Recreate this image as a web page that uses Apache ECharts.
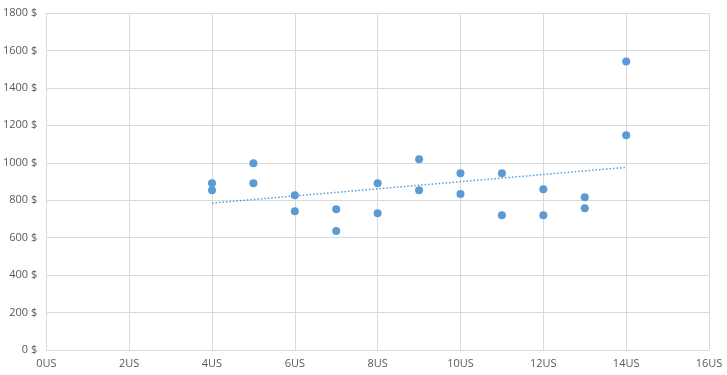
<!DOCTYPE html>
<html>
<head>
<meta charset="utf-8">
<script src="https://cdn.jsdelivr.net/npm/echarts@6/dist/echarts.min.js"></script>
<style>html,body{margin:0;padding:0;background:#fff;}#c{width:727px;height:375px;}</style>
</head>
<body>
<div id="c"></div>
<script>
var xValues = [4, 4, 5, 5, 6, 6, 7, 7, 8, 8, 9, 9, 10, 10, 11, 11, 12, 12, 13, 13, 14, 14];
var yValues = [891, 853, 997, 891, 827, 741, 752, 635, 891, 731, 1019, 853, 944, 833, 944, 720, 859, 720, 816, 757, 1541, 1147];
var xTicks = [0, 2, 4, 6, 8, 10, 12, 14, 16];
var yTicks = [0, 200, 400, 600, 800, 1000, 1200, 1400, 1600, 1800];

var pts = xValues.map(function (x, i) { return [x, yValues[i]]; });
// least-squares linear trendline
var n = xValues.length, sx = 0, sy = 0, sxx = 0, sxy = 0;
for (var i = 0; i < n; i++) { sx += xValues[i]; sy += yValues[i]; sxx += xValues[i] * xValues[i]; sxy += xValues[i] * yValues[i]; }
var slope = (n * sxy - sx * sy) / (n * sxx - sx * sx);
var intercept = (sy - slope * sx) / n;
var xmin = Math.min.apply(null, xValues), xmax = Math.max.apply(null, xValues);
var trend = [[xmin, intercept + slope * xmin], [xmax, intercept + slope * xmax]];

var chart = echarts.init(document.getElementById('c'), null, { renderer: 'canvas' });
var labelStyle = { color: '#595959', fontSize: 11, fontFamily: 'Open Sans, sans-serif' };
chart.setOption({
  animation: false,
  grid: { left: 45, right: 18, top: 13, bottom: 25, containLabel: false },
  xAxis: {
    type: 'value', min: xTicks[0], max: xTicks[xTicks.length - 1], interval: 2,
    axisLine: { show: true, lineStyle: { color: '#d9d9d9' } },
    axisTick: { show: false },
    splitLine: { show: true, lineStyle: { color: '#d9d9d9' } },
    axisLabel: Object.assign({ formatter: function (v) { return v + 'US'; }, margin: 8 }, labelStyle)
  },
  yAxis: {
    type: 'value', min: yTicks[0], max: yTicks[yTicks.length - 1], interval: 200,
    axisLine: { show: false },
    axisTick: { show: false },
    splitLine: { show: true, lineStyle: { color: '#d9d9d9' } },
    axisLabel: Object.assign({ formatter: function (v) { return v + ' $'; }, margin: 9 }, labelStyle)
  },
  series: [
    {
      type: 'scatter', data: pts, symbol: 'circle', symbolSize: 8,
      itemStyle: { color: '#5B9BD5', opacity: 1 }
    },
    {
      type: 'line', data: trend, symbol: 'none',
      lineStyle: { color: '#5B9BD5', width: 1.5, type: [1.5, 2] }
    }
  ]
});
</script>
</body>
</html>
